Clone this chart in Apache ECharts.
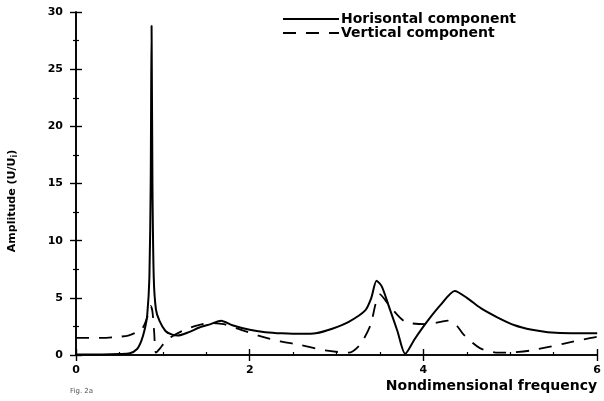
<!DOCTYPE html>
<html><head><meta charset="utf-8">
<script src="https://cdn.jsdelivr.net/npm/echarts@6/dist/echarts.min.js"></script>
<style>html,body{margin:0;padding:0;background:#fff}#c{width:604px;height:401px}</style>
</head><body><div id="c"></div>
<script>
// Horizontal component (solid): [frequency, amplitude]
var horizontalX = [0,0.3,0.5,0.62,0.7,0.75,0.79,0.82,0.845,0.86,0.87,0.88,0.895,0.92,0.96,1.03,1.1,1.17,1.3,1.42,1.55,1.67,1.8,2.0,2.18,2.37,2.6,2.76,2.95,3.14,3.33,3.4,3.46,3.52,3.6,3.7,3.79,3.9,4.05,4.2,4.36,4.5,4.66,4.85,5.05,5.25,5.43,5.7,6.0];
var horizontalY = [0.05,0.05,0.08,0.15,0.5,1.2,2.2,3.5,6.8,15,28.8,15,6.8,4.0,3.0,2.1,1.8,1.7,2.0,2.4,2.7,3.0,2.6,2.2,2.0,1.9,1.85,1.9,2.3,2.9,3.9,5.0,6.5,6.0,4.3,2.1,0.1,1.4,3.0,4.4,5.6,5.0,4.1,3.3,2.6,2.2,2.0,1.9,1.9];
// Vertical component (dashed)
var verticalX = [0,0.3,0.5,0.6,0.7,0.77,0.82,0.86,0.88,0.9,0.92,0.97,1.02,1.1,1.25,1.4,1.55,1.7,1.9,2.14,2.35,2.57,2.87,3.14,3.27,3.39,3.45,3.5,3.56,3.63,3.79,4.03,4.2,4.28,4.38,4.46,4.65,4.86,5.05,5.24,5.62,5.93,6.0];
var verticalY = [1.5,1.5,1.6,1.7,2.0,2.4,3.3,4.3,3.8,2.0,0.2,0.6,1.1,1.6,2.2,2.6,2.8,2.7,2.2,1.6,1.2,0.9,0.4,0.2,0.9,2.6,4.5,5.3,4.8,4.1,2.9,2.7,2.9,3.0,2.6,1.8,0.6,0.2,0.25,0.4,1.0,1.5,1.6];
var seriesNames = ['Horisontal component', 'Vertical component'];
var xTicks = [0, 2, 4, 6];
var yTicks = [0, 5, 10, 15, 20, 25, 30];

function pairs(xs, ys){ return xs.map(function(x,i){ return [x, ys[i]]; }); }

var chart = echarts.init(document.getElementById('c'), null, {renderer:'canvas'});
var FONT = 'DejaVu Sans';
var tickCommon = {
  axisLine:{show:true, lineStyle:{color:'#000', width:1.6}},
  axisTick:{show:true, inside:true, length:6, lineStyle:{color:'#000', width:1.4}},
  minorTick:{show:true, splitNumber:2, length:3, lineStyle:{color:'#000', width:1.2}},
  splitLine:{show:false}
};
chart.setOption({
  animation:false,
  backgroundColor:'#fff',
  grid:{left:76, right:4, top:12, bottom:46, containLabel:false},
  legend:{
    left:282, top:12, orient:'vertical', padding:0, itemWidth:56, itemHeight:14, itemGap:0,
    itemStyle:{opacity:0},
    textStyle:{fontFamily:FONT, fontWeight:'bold', fontSize:14, color:'#000', padding:[0,0,0,-3]},
    data:seriesNames
  },
  xAxis:[
    Object.assign({type:'value', min:xTicks[0], max:xTicks[xTicks.length-1], interval:2, position:'bottom',
      axisLabel:{color:'#000', fontFamily:FONT, fontWeight:'bold', fontSize:11, margin:10},
      name:'Nondimensional frequency', nameLocation:'end', nameGap:0,
      nameTextStyle:{color:'#000', fontFamily:FONT, fontWeight:'bold', fontSize:14, align:'right', verticalAlign:'top', padding:[24,0,0,0]}
    }, tickCommon, {minorTick:{show:true, splitNumber:4, length:3, lineStyle:{color:'#000', width:1.2}}}),
    Object.assign({type:'value', min:0, max:6, interval:2, position:'top', axisLabel:{show:false}}, tickCommon, {minorTick:{show:false}})
  ],
  yAxis:[
    Object.assign({type:'value', min:yTicks[0], max:yTicks[yTicks.length-1], interval:5, position:'left',
      axisLabel:{color:'#000', fontFamily:FONT, fontWeight:'bold', fontSize:11, margin:13}}, tickCommon),
    Object.assign({type:'value', min:0, max:30, interval:5, position:'right', axisLabel:{show:false}}, tickCommon)
  ],
  graphic:[
    {type:'text', x:12, y:201, rotation:Math.PI/2, style:{
      text:'Amplitude (U/U{s|i})', rich:{s:{fontSize:8, fontWeight:'bold', fontFamily:FONT, verticalAlign:'bottom', padding:[6,0,0,0]}},
      fontFamily:FONT, fontWeight:'bold', fontSize:11, fill:'#000', align:'center', verticalAlign:'middle'}},
    {type:'text', left:70, top:388, style:{text:'Fig. 2a', fontFamily:FONT, fontSize:7, fill:'#555'}}
  ],
  series:[
    {name:seriesNames[0], type:'line', xAxisIndex:0, yAxisIndex:0, data:pairs(horizontalX, horizontalY),
      showSymbol:false, symbol:'none', smooth:0.25, lineStyle:{color:'#000', width:2}, itemStyle:{color:'#000'}},
    {name:seriesNames[1], type:'line', xAxisIndex:0, yAxisIndex:0, data:pairs(verticalX, verticalY),
      showSymbol:false, symbol:'none', smooth:0.25, lineStyle:{color:'#000', width:1.8, type:[13,10]}, itemStyle:{color:'#000'}}
  ]
});
</script></body></html>
